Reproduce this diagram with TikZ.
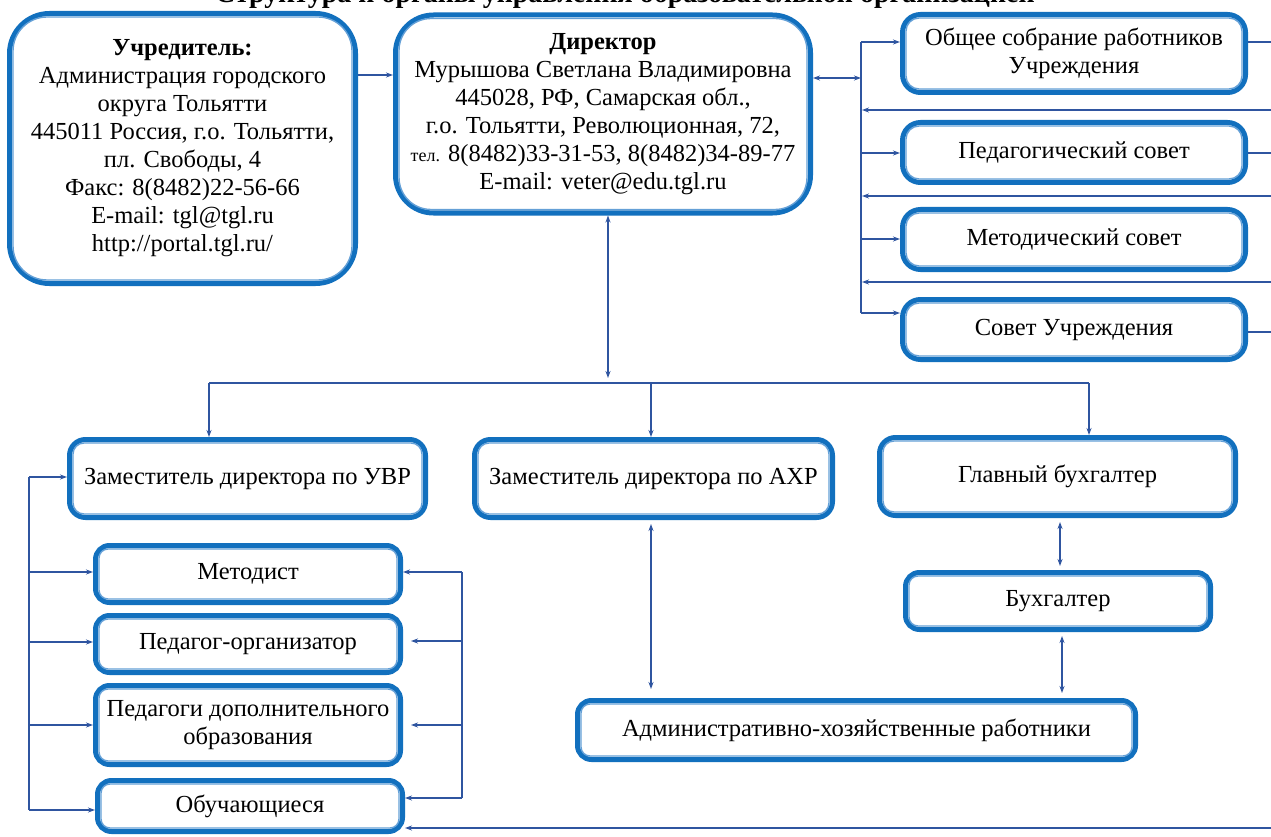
\documentclass[tikz,border=0pt]{standalone}
\usepackage{fontspec}
\setmainfont{Liberation Serif}
\usetikzlibrary{arrows.meta,calc}
\definecolor{obl}{RGB}{18,112,190}
\definecolor{ibl}{RGB}{100,160,215}
\definecolor{cbl}{RGB}{47,85,160}
\tikzset{
 orgbox/.style={draw=obl, line width=5pt, fill=white, align=center, inner sep=0pt, text=black,
   font=\fontsize{24.5}{28}\selectfont},
 inbox/.style={draw=ibl, line width=1.4pt},
 conn/.style={draw=cbl, line width=1.3pt},
 arr/.style={conn, -{Stealth[length=7pt,width=5pt]}},
 darr/.style={conn, {Stealth[length=7pt,width=5pt]}-{Stealth[length=7pt,width=5pt]}},
}
% name, cx, cy, w, h, Router, Rinner, text
\newcommand\obox[8]{%
 \node[orgbox, rounded corners=#6pt, minimum width=#4pt, minimum height=#5pt] (#1) at (#2,#3) {#8};
 \draw[inbox, rounded corners=#7pt] ($(#1.south west)+(6,-6)$) rectangle ($(#1.north east)+(-6,6)$);
}
\begin{document}
\begin{tikzpicture}[x=1pt,y=-1pt]
\useasboundingbox (0,0) rectangle (1271,837);
\fill[white] (0,0) rectangle (1271,837);
\begin{scope}
\clip (0,0) rectangle (1271,837);
\node[anchor=base, font=\bfseries\fontsize{28}{32}\selectfont] (title) at (625,3) {Структура и органы управления образовательной организацией};
\end{scope}

\obox{uch}{182.5}{148.5}{346}{270}{40}{34}{{\bfseries Учредитель:}\\Администрация городского\\округа Тольятти\\445011 Россия, г.о. Тольятти,\\пл. Свободы, 4\\Факс: 8(8482)22-56-66\\E-mail: tgl@tgl.ru\\http://portal.tgl.ru/}
\obox{dir}{603}{114}{415}{198}{38}{32}{{\bfseries Директор}\\Мурышова Светлана Владимировна\\445028, РФ, Самарская обл.,\\г.о. Тольятти, Революционная, 72,\\{\fontsize{18}{28}\selectfont тел.} 8(8482)33-31-53, 8(8482)34-89-77\\E-mail: veter@edu.tgl.ru}
\obox{obs}{1074}{53.5}{343}{78}{18}{13}{Общее собрание работников\\Учреждения}
\obox{ped}{1074}{152.5}{343}{60}{18}{13}{Педагогический совет}
\obox{met}{1074}{239.5}{343}{60}{18}{13}{Методический совет}
\obox{sov}{1074}{329.5}{343}{60}{18}{13}{Совет Учреждения}
\obox{uvr}{247.5}{478.5}{356}{78}{16}{11}{Заместитель директора по УВР}
\obox{axr}{653.5}{478.5}{358}{78}{16}{11}{Заместитель директора по АХР}
\obox{gb}{1057.5}{476.5}{356}{78}{16}{11}{Главный бухгалтер}
\obox{bux}{1058}{601}{305}{57}{14}{9}{Бухгалтер}
\obox{ahr}{856.5}{730}{558}{59}{14}{9}{Административно-хозяйственные работники}
\obox{mtd}{248}{574}{305}{57}{14}{9}{Методист}
\obox{po}{248}{644}{305}{57}{14}{9}{Педагог-организатор}
\obox{pdo}{248}{725}{305}{79}{14}{9}{Педагоги дополнительного\\образования}
\obox{obu}{250}{806}{305}{51}{14}{9}{Обучающиеся}

% top connections
\coordinate (ud) at (0,75);
\draw[arr] (uch.east |- ud) -- (dir.west |- ud);
\coordinate (rbd) at (861,78);
\coordinate (rb1) at (861,42);
\coordinate (rb2) at (861,153);
\coordinate (rb3) at (861,239);
\coordinate (rb4) at (861,313);
\draw[conn] (rb1) -- (rb4);
\draw[darr] (dir.east |- rbd) -- (rbd);
\draw[arr] (rb1) -- (obs.west |- rb1);
\draw[arr] (rb2) -- (ped.west |- rb2);
\draw[arr] (rb3) -- (met.west |- rb3);
\draw[arr] (rb4) -- (sov.west |- rb4);
\coordinate (re1) at (1271,110); \coordinate (ri1) at (862,110);
\coordinate (re2) at (1271,196); \coordinate (ri2) at (862,196);
\coordinate (re3) at (1271,282); \coordinate (ri3) at (862,282);
\draw[arr] (re1) -- (ri1);
\draw[arr] (re2) -- (ri2);
\draw[arr] (re3) -- (ri3);
\coordinate (rs1) at (1271,42);
\coordinate (rs2) at (1271,153);
\coordinate (rs3) at (1271,332);
\draw[conn] (obs.east |- rs1) -- (rs1);
\draw[conn] (ped.east |- rs2) -- (rs2);
\draw[conn] (sov.east |- rs3) -- (rs3);

% director down
\coordinate (dj) at (608,378);
\coordinate (h1) at (209,383);
\coordinate (h2) at (651,383);
\coordinate (h3) at (1089,383);
\draw[darr] (dir.south -| dj) -- (dj);
\draw[conn] (h1) -- (h3);
\draw[arr] (h1) -- (uvr.north -| h1);
\draw[arr] (h2) -- (axr.north -| h2);
\draw[arr] (h3) -- (gb.north -| h3);

% middle / right
\draw[darr, shorten <=4pt, shorten >=9pt] (axr.south -| h2) -- (ahr.north -| h2);
\coordinate (bx1) at (1060,0);
\coordinate (bx2) at (1062,0);
\draw[darr, shorten <=4pt, shorten >=4pt] (gb.south -| bx1) -- (bux.north -| bx1);
\draw[darr, shorten <=4pt, shorten >=5pt] (bux.south -| bx2) -- (ahr.north -| bx2);

% left bus
\coordinate (l0) at (29,477);
\coordinate (l1) at (29,572);
\coordinate (l2) at (29,642);
\coordinate (l3) at (29,725);
\coordinate (l4) at (29,810);
\draw[conn] (l0) -- (l4);
\draw[arr] (l0) -- (uvr.west |- l0);
\draw[arr] (l1) -- (mtd.west |- l1);
\draw[arr] (l2) -- (po.west |- l2);
\draw[arr] (l3) -- (pdo.west |- l3);
\draw[arr] (l4) -- (obu.west |- l4);

% right bracket
\coordinate (r1) at (462,572);
\coordinate (r2) at (462,641);
\coordinate (r3) at (462,725);
\coordinate (r4) at (462,798);
\draw[conn] (r1) -- (r4);
\draw[arr] (r1) -- (mtd.east |- r1);
\draw[arr, shorten >=8pt] (r2) -- (po.east |- r2);
\draw[arr, shorten >=8pt] (r3) -- (pdo.east |- r3);
\draw[arr] (r4) -- (obu.east |- r4);

% bottom long line
\coordinate (bt) at (1271,828);
\draw[arr] (bt) -- (obu.east |- bt);
\end{tikzpicture}
\end{document}
